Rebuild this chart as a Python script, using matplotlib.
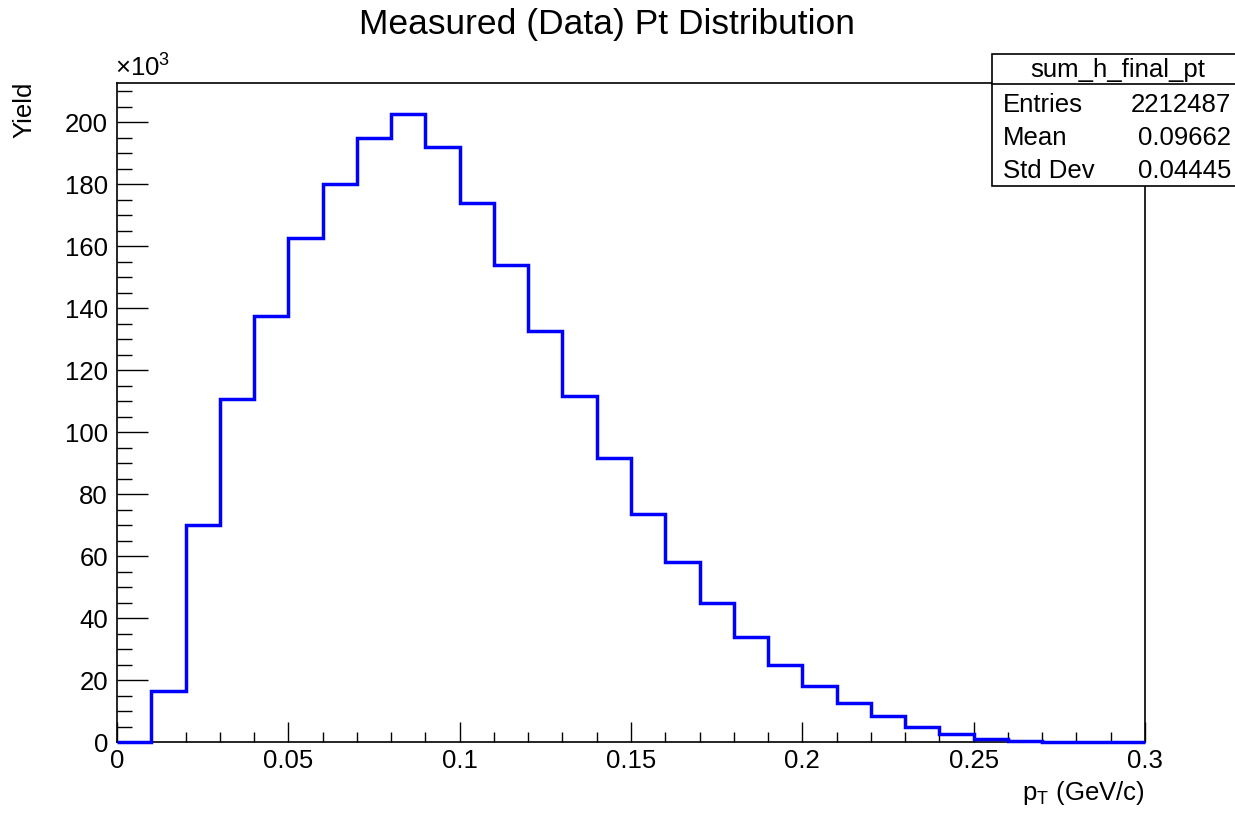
import matplotlib
matplotlib.use("Agg")
import matplotlib.pyplot as plt
from matplotlib.patches import Rectangle
from matplotlib.lines import Line2D
from matplotlib.ticker import MultipleLocator, FuncFormatter

plt.rcParams['font.family'] = ['Liberation Sans', 'DejaVu Sans']
plt.rcParams['mathtext.fontset'] = 'custom'
plt.rcParams['mathtext.rm'] = 'Liberation Sans'
plt.rcParams['mathtext.it'] = 'Liberation Sans'

# bin edges 0 .. 0.3 in steps of 0.01 (GeV/c)
bin_edges = [i * 0.01 for i in range(31)]
# yield per bin
counts = [0, 16500, 70000, 110500, 137500, 162500, 180000, 195000, 202500, 192000,
          174000, 154000, 132500, 111500, 91500, 73500, 58000, 45000, 34000, 25000,
          18000, 12500, 8500, 5000, 2500, 1000, 400, 150, 50, 20]

stat_names = ["Entries", "Mean", "Std Dev"]
stat_values = ["2212487", "0.09662", "0.04445"]
hist_name = "sum_h_final_pt"

fs = 18.5
W, H = 1235, 816

fig = plt.figure(figsize=(12.35, 8.16), dpi=100)
ax = fig.add_axes([117 / W, 1 - 742 / H, (1145 - 117) / W, (742 - 83) / H])

ax.stairs(counts, bin_edges, color=(0, 0, 1), linewidth=2.5, baseline=0,
          zorder=3, clip_on=False)

ax.set_xlim(0, 0.3)
ax.set_ylim(0, 212600)

ax.xaxis.set_major_locator(MultipleLocator(0.05))
ax.xaxis.set_minor_locator(MultipleLocator(0.01))
ax.yaxis.set_major_locator(MultipleLocator(20000))
ax.yaxis.set_minor_locator(MultipleLocator(5000))
ax.xaxis.set_major_formatter(FuncFormatter(lambda v, p: "0" if abs(v) < 1e-9 else f"{v:g}"))
ax.yaxis.set_major_formatter(FuncFormatter(lambda v, p: f"{v / 1000:g}"))

ax.tick_params(which='both', direction='in', top=False, right=False, labelsize=fs, width=1.0)
ax.tick_params(axis='x', which='major', length=14.5, pad=5)
ax.tick_params(axis='x', which='minor', length=7)
ax.tick_params(axis='y', which='major', length=22, pad=6.5)
ax.tick_params(axis='y', which='minor', length=11)
for s in ax.spines.values():
    s.set_linewidth(1.2)

fig.text(115 / W, 1 - 82 / H, "×10$^{3}$", fontsize=fs, ha='left', va='bottom')

fig.text(24 / W, 1 - 82 / H, "Yield", rotation=90, fontsize=fs, ha='center', va='top')
fig.text(1145 / W, 1 - 800 / H, r"p$_{\mathrm{T}}$ (GeV/c)", fontsize=fs, ha='right', va='baseline')

fig.text(607 / W, 1 - 34 / H, "Measured (Data) Pt Distribution", fontsize=25.5,
         ha='center', va='baseline')

# stats box, running past the right edge like the original
box_l, box_b, box_t, head = 992 / W, 1 - 186 / H, 1 - 54 / H, 1 - 84 / H
fig.add_artist(Rectangle((box_l, box_b), 0.25, box_t - box_b, transform=fig.transFigure,
                         facecolor='white', edgecolor='black', linewidth=1.2, zorder=5))
fig.add_artist(Line2D([box_l, 1.0], [head, head], transform=fig.transFigure,
                      color='black', linewidth=1.2, zorder=6))
fig.text(1118 / W, 1 - 70 / H, hist_name, fontsize=fs, ha='center', va='center', zorder=7)
row_y = [105, 138, 171]
for name, val, y in zip(stat_names, stat_values, row_y):
    fig.text(1003 / W, 1 - y / H, name, fontsize=fs, ha='left', va='center', zorder=7)
    fig.text(1231 / W, 1 - y / H, val, fontsize=fs, ha='right', va='center', zorder=7)

fig.savefig("out.png", dpi=100)
